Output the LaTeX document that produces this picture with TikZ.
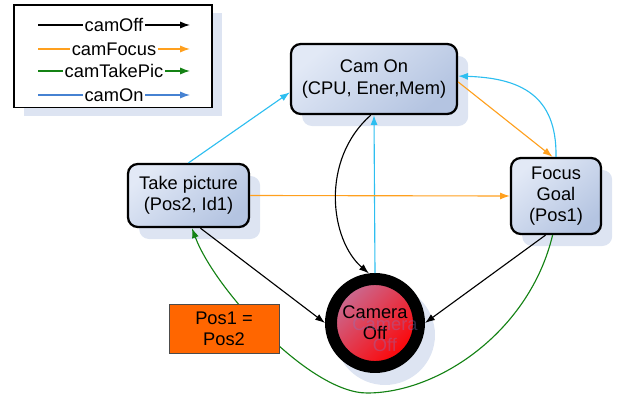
\documentclass[tikz,border=0pt]{standalone}
\usepackage{fontspec}
\setmainfont{Liberation Sans}
\usetikzlibrary{arrows.meta,shadows}
\definecolor{NodeLight}{RGB}{226,233,246}
\definecolor{NodeDark}{RGB}{180,196,225}
\definecolor{Shade}{RGB}{221,228,242}
\definecolor{Ghost}{RGB}{130,120,200}
\definecolor{OffLight}{RGB}{200,110,150}
\definecolor{OffMid}{RGB}{245,20,30}
\definecolor{OffDark}{RGB}{255,0,0}
\definecolor{OnCyan}{RGB}{45,190,240}
\definecolor{OnBlue}{RGB}{70,130,210}
\definecolor{FocusOrange}{RGB}{255,160,30}
\definecolor{PicGreen}{RGB}{20,130,20}
\definecolor{GuardOrange}{RGB}{255,102,0}

\begin{document}
\begin{tikzpicture}[x=0.025cm, y=-0.025cm, >={Latex[length=7pt,width=5pt]},
  font=\fontsize{13}{15}\selectfont,
  statebox/.style={draw, line width=1.6pt, rounded corners=7pt, align=center,
    top color=NodeLight, bottom color=NodeDark, shading angle=40,
    general shadow={shadow xshift=0.28cm, shadow yshift=-0.3cm, fill=Shade}},
  link/.style={line width=0.8pt, ->}]
\useasboundingbox (0,0) rectangle (625,400);

\node[draw, line width=1.4pt, fill=white, minimum width=4.95cm, minimum height=2.55cm,
  general shadow={shadow xshift=0.25cm, shadow yshift=-0.2cm, fill=Shade}] (legend) at (113,56.5) {};
\foreach \y/\c/\lbl in {25/black/camOff, 49/FocusOrange/camFocus, 71/PicGreen/camTakePic, 95/OnBlue/camOn}
  \draw[link, \c] (38,\y) -- (190,\y) node[midway, fill=white, inner sep=1pt, text=black] (key\lbl) {\lbl};

\node[statebox, minimum width=4.15cm, minimum height=1.75cm] (camon) at (374,79) {Cam On\\(CPU, Ener,Mem)};
\node[statebox, minimum width=3.025cm, minimum height=1.575cm] (take) at (188.5,195.5) {Take picture\\(Pos2, Id1)};
\node[statebox, minimum width=2.25cm, minimum height=1.9cm] (focus) at (556,196) {Focus\\Goal\\(Pos1)};
\node[circle, draw, line width=8.5pt, minimum size=2.2cm, inner sep=0pt, align=center,
  top color=OffLight, middle color=OffMid, bottom color=OffDark, shading angle=45,
  general shadow={shadow xshift=0.25cm, shadow yshift=-0.3cm, fill=Shade, draw=Shade, line width=8.5pt}] (camoff) at (375,323) {Camera\\Off};
\node[text=Ghost, opacity=0.35, align=center] (ghost) at ([xshift=0.25cm, yshift=-0.3cm]camoff.center) {Camera\\Off};

\draw[link, OnCyan] (take.north) -- (camon.189);
\draw[link, OnCyan] (camoff.north) -- (camon.south);
\draw[link, OnCyan] (focus.north) .. controls (557,95) and (520,78) .. (camon.2);
\draw[link, FocusOrange] (camon.358) -- (focus.95);
\draw[link, FocusOrange] (take.east) -- (focus.west);
\draw[link] (camon.265) .. controls (320,160) and (330,240) .. (camoff.97);
\draw[link] (take.290) -- (camoff.west);
\draw[link] (focus.255) -- (camoff.east);
\draw[link, PicGreen] (focus.265) .. controls (530,330) and (440,393) .. (367,393)
  .. controls (310,393) and (215,290) .. (take.276);

\node[draw=black!70, line width=0.5pt, fill=GuardOrange, minimum width=2.75cm, minimum height=1.225cm, align=center] (guard) at (224,328.5) {Pos1 =\\Pos2};
\end{tikzpicture}
\end{document}
